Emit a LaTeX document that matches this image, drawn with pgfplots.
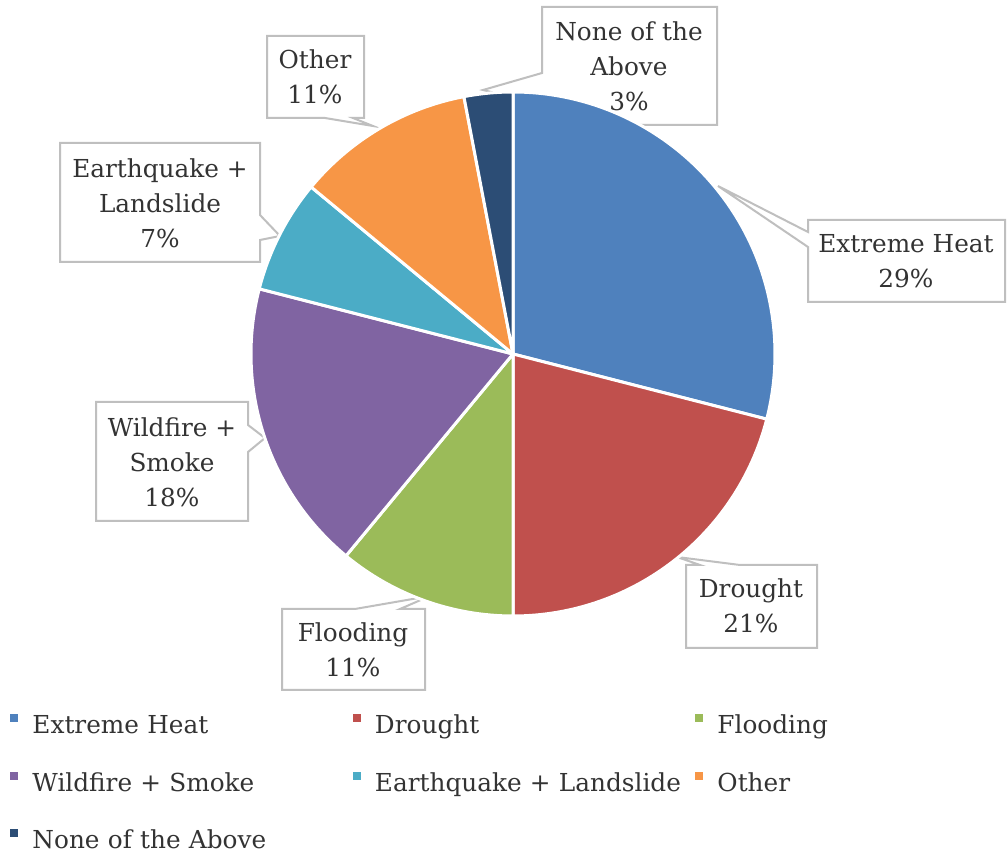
\documentclass[border=0pt]{standalone}
\usepackage{fontspec}
\setmainfont{DejaVu Serif}
\usepackage{pgfplots}
\pgfplotsset{compat=1.18}
\usepackage{pgfplotstable}

\definecolor{c1}{HTML}{4F81BD}
\definecolor{c2}{HTML}{C0504D}
\definecolor{c3}{HTML}{9BBB59}
\definecolor{c4}{HTML}{8064A2}
\definecolor{c5}{HTML}{4BACC6}
\definecolor{c6}{HTML}{F79646}
\definecolor{c7}{HTML}{2C4D75}
\definecolor{txt}{HTML}{333333}
\definecolor{box}{HTML}{BFBFBF}

\newcommand\labfont{\fontsize{9.9}{14}\selectfont}
\def\pieR{104.8pt}
\pgfdeclareplotmark{blank}{}

% share of answers, clockwise from 12 o'clock (start angle in degrees)
\pgfplotstableread{
x   y   pct start col
513 354 29  90     1
513 354 21  -14.4  2
513 354 11  -90    3
513 354 18  -129.6 4
513 354 7   -194.4 5
513 354 11  -219.6 6
513 354 3   -259.2 7
}\slices

\begin{document}
\begin{tikzpicture}
\begin{axis}[
    x=0.4pt, y=0.4pt,
    xmin=0, xmax=1007, ymin=0, ymax=852,
    y dir=reverse,
    hide axis, clip=false,
    legend columns=3,
    legend cell align=left,
    legend image code/.code={\fill[#1] (0pt,2pt) rectangle (3.2pt,5.2pt);},
    legend style={at={(axis cs:10,714)}, anchor=north west, draw=none, fill=none,
        inner sep=0pt, font=\labfont, text=txt, row sep=12.8pt,
        nodes={inner sep=0pt, text height=7.5pt, text depth=2.5pt, text width=123pt, align=left},
        /tikz/every odd column/.append style={column sep=5.6pt},
        /tikz/every even column/.append style={column sep=5.2pt}},
]
\addplot[scatter, only marks, mark=blank, forget plot,
    visualization depends on={\thisrow{start}\as\sa},
    visualization depends on={\thisrow{pct}\as\pc},
    visualization depends on={\thisrow{col}\as\colidx},
    scatter/@pre marker code/.code={%
        \pgfmathsetmacro\ea{\sa-3.6*\pc}%
        \pgfmathtruncatemacro\ci{\colidx}%
        \fill[c\ci, draw=white, line width=1.2pt, line join=round]
            (0,0) -- (\sa:\pieR) arc[start angle=\sa, end angle=\ea, radius=\pieR] -- cycle;},
    scatter/@post marker code/.code={},
] table[x=x, y=y] {\slices};

\addlegendimage{fill=c1, draw=none}\addlegendentry{Extreme Heat}
\addlegendimage{fill=c2, draw=none}\addlegendentry{Drought}
\addlegendimage{fill=c3, draw=none}\addlegendentry{Flooding}
\addlegendimage{fill=c4, draw=none}\addlegendentry{Wildfire + Smoke}
\addlegendimage{fill=c5, draw=none}\addlegendentry{Earthquake + Landslide}
\addlegendimage{fill=c6, draw=none}\addlegendentry{Other}
\addlegendimage{fill=c7, draw=none}\addlegendentry{None of the Above}

% callouts
\tikzset{callout/.style={fill=white, draw=box, line width=0.8pt, line join=miter}}
\filldraw[callout] (axis cs:808,220) -- (axis cs:1005,220) -- (axis cs:1005,302) -- (axis cs:808,302)
    -- (axis cs:808,247) -- (axis cs:718,186) -- (axis cs:808,232) -- cycle;
\node[align=center, text=txt, font=\labfont] at (axis cs:906,261) {Extreme Heat\\29\%};

\filldraw[callout] (axis cs:686,565) -- (axis cs:700,565) -- (axis cs:677,557) -- (axis cs:740,565)
    -- (axis cs:817,565) -- (axis cs:817,648) -- (axis cs:686,648) -- cycle;
\node[align=center, text=txt, font=\labfont] at (axis cs:751,606) {Drought\\21\%};

\filldraw[callout] (axis cs:282,609) -- (axis cs:355,609) -- (axis cs:430,596) -- (axis cs:400,609)
    -- (axis cs:425,609) -- (axis cs:425,690) -- (axis cs:282,690) -- cycle;
\node[align=center, text=txt, font=\labfont] at (axis cs:353,650) {Flooding\\11\%};

\filldraw[callout] (axis cs:96,402) -- (axis cs:248,402) -- (axis cs:248,425) -- (axis cs:265,438)
    -- (axis cs:248,452) -- (axis cs:248,521) -- (axis cs:96,521) -- cycle;
\node[align=center, text=txt, font=\labfont] at (axis cs:172,462) {Wildfire +\\Smoke\\18\%};

\filldraw[callout] (axis cs:60,143) -- (axis cs:260,143) -- (axis cs:260,215) -- (axis cs:280,236)
    -- (axis cs:260,240) -- (axis cs:260,262) -- (axis cs:60,262) -- cycle;
\node[align=center, text=txt, font=\labfont] at (axis cs:160,203) {Earthquake +\\Landslide\\7\%};

\filldraw[callout] (axis cs:267,36) -- (axis cs:364,36) -- (axis cs:364,118) -- (axis cs:353,118)
    -- (axis cs:373,126) -- (axis cs:325,118) -- (axis cs:267,118) -- cycle;
\node[align=center, text=txt, font=\labfont] at (axis cs:315,77) {Other\\11\%};

\filldraw[callout] (axis cs:542,7) -- (axis cs:717,7) -- (axis cs:717,125) -- (axis cs:542,125)
    -- (axis cs:542,105) -- (axis cs:483,90) -- (axis cs:542,73) -- cycle;
\node[align=center, text=txt, font=\labfont] at (axis cs:629,66) {None of the\\Above\\3\%};
\end{axis}
\pgfresetboundingbox
\useasboundingbox (current axis.south west) rectangle (current axis.north east);
\end{tikzpicture}
\end{document}
